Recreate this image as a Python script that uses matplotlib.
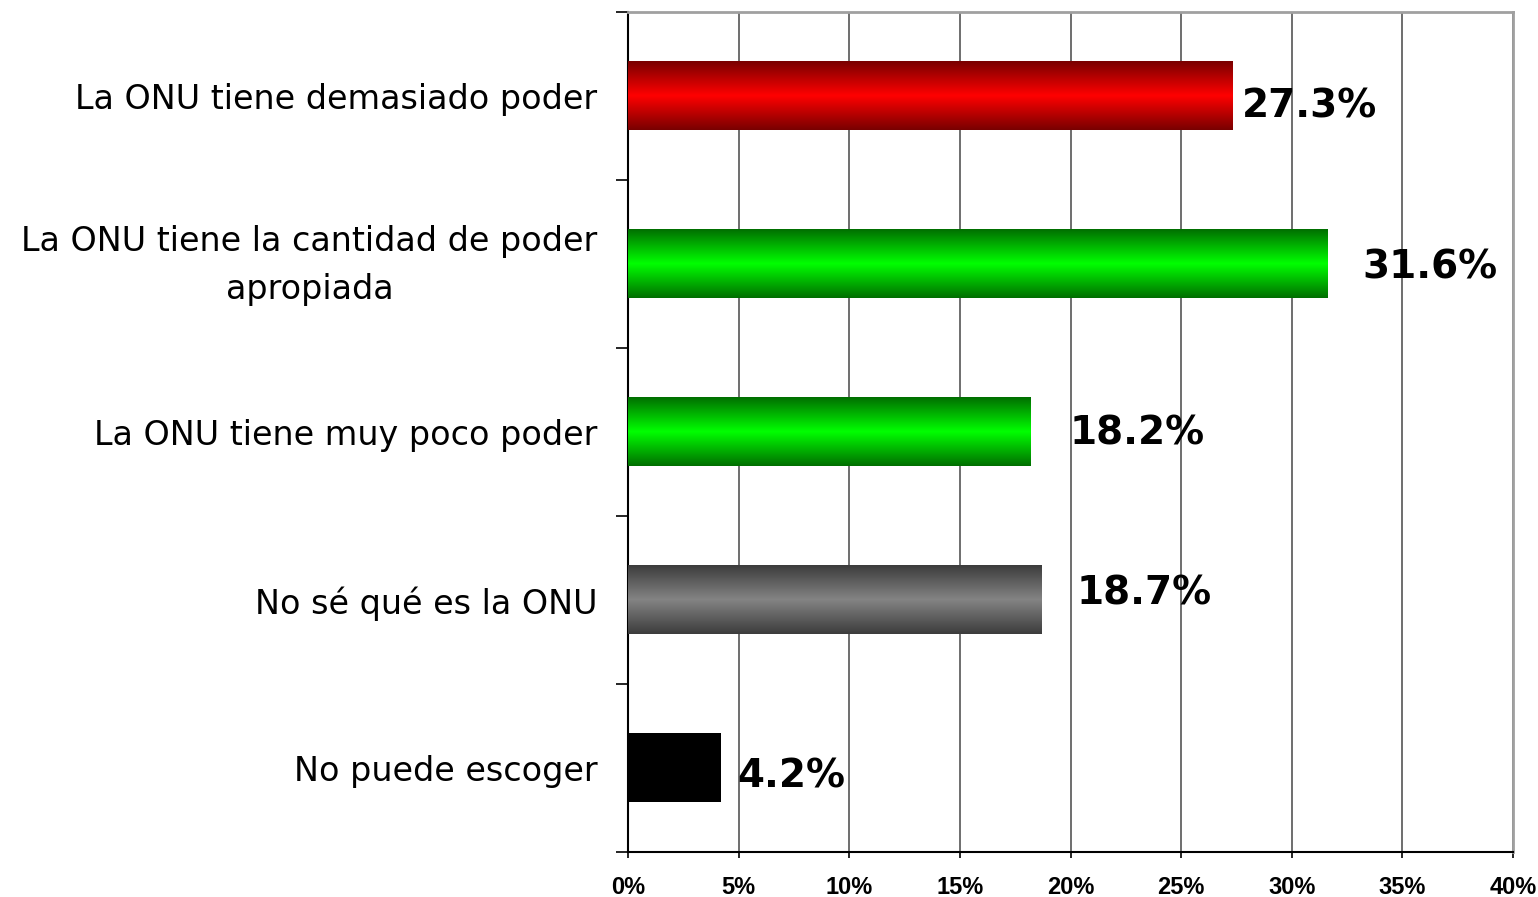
import numpy as np
import matplotlib
matplotlib.use("Agg")
import matplotlib.pyplot as plt
from matplotlib.colors import LinearSegmentedColormap
from matplotlib.transforms import ScaledTranslation

categories = [
    "La ONU tiene demasiado poder",
    "La ONU tiene la cantidad de poder\napropiada",
    "La ONU tiene muy poco poder",
    "No sé qué es la ONU",
    "No puede escoger",
]
values = [27.3, 31.6, 18.2, 18.7, 4.2]
value_labels = ["27.3%", "31.6%", "18.2%", "18.7%", "4.2%"]
x_ticks = [0, 5, 10, 15, 20, 25, 30, 35, 40]
x_tick_labels = ["0%", "5%", "10%", "15%", "20%", "25%", "30%", "35%", "40%"]

# (edge colour, middle colour) for the shaded bars
bar_shades = [
    ("#780000", "#ff0000"),
    ("#006e00", "#00ff00"),
    ("#006e00", "#00ff00"),
    ("#3c3c3c", "#848484"),
    ("#000000", "#000000"),
]
# label nudges as in the original (x in data units, y in category units)
label_dx = [0.45, 1.57, 1.78, 1.59, 0.73]
label_dy = [0.06, 0.02, 0.01, -0.04, 0.05]

fig = plt.figure(figsize=(15.38, 8.97), dpi=100)
ax = fig.add_axes([628 / 1538, 1 - 852 / 897, (1513 - 628) / 1538, (852 - 12) / 897])

ypos = np.arange(len(categories))
bars = ax.barh(ypos, values, height=0.405, color="none", edgecolor="none", zorder=3)

# fill each bar with a vertical dark-bright-dark gradient
grad = np.linspace(0, 1, 256).reshape(-1, 1)
for bar, (c_edge, c_mid) in zip(bars, bar_shades):
    x0, y0 = bar.get_x(), bar.get_y()
    w, h = bar.get_width(), bar.get_height()
    cmap = LinearSegmentedColormap.from_list("shade", [c_edge, c_mid, c_edge])
    ax.imshow(grad, cmap=cmap, extent=[x0, x0 + w, y0 + h, y0],
              aspect="auto", zorder=3, interpolation="bilinear")

for i, (v, lab) in enumerate(zip(values, value_labels)):
    ax.text(v + label_dx[i], ypos[i] + label_dy[i], lab, ha="left", va="center",
            fontsize=28, fontweight="bold", family="DejaVu Sans", zorder=4)

ax.set_xlim(0, 40)
ax.set_ylim(len(categories) - 0.5, -0.5)

ax.set_xticks(x_ticks)
ax.set_xticklabels(x_tick_labels, fontsize=17, fontweight="bold", family="Liberation Sans")
ax.tick_params(axis="x", length=4.5, width=1.2, pad=13, color="black")

# boundaries get the tick marks, centres get the labels
ax.set_yticks(np.arange(-0.5, len(categories) + 0.5, 1))
ax.set_yticklabels([])
ax.set_yticks(ypos, minor=True)
ax.set_yticklabels(categories, minor=True, fontsize=24, family="DejaVu Sans",
                   multialignment="center", linespacing=1.55)
ax.tick_params(axis="y", which="major", length=9, width=1.2, color="black")
ax.tick_params(axis="y", which="minor", length=0, pad=22)

# the two-line label sits a little higher in the original
lbl = ax.get_yticklabels(minor=True)[1]
lbl.set_transform(lbl.get_transform() + ScaledTranslation(0, 0.09, fig.dpi_scale_trans))

ax.grid(axis="x", color="#555555", linewidth=1.2)
ax.set_axisbelow(True)

ax.spines["left"].set_color("black")
ax.spines["left"].set_linewidth(1.5)
ax.spines["bottom"].set_color("black")
ax.spines["bottom"].set_linewidth(1.5)
ax.spines["top"].set_color("#a0a0a0")
ax.spines["top"].set_linewidth(2)
ax.spines["right"].set_color("#a0a0a0")
ax.spines["right"].set_linewidth(2)

plt.savefig("out.png", dpi=100)
